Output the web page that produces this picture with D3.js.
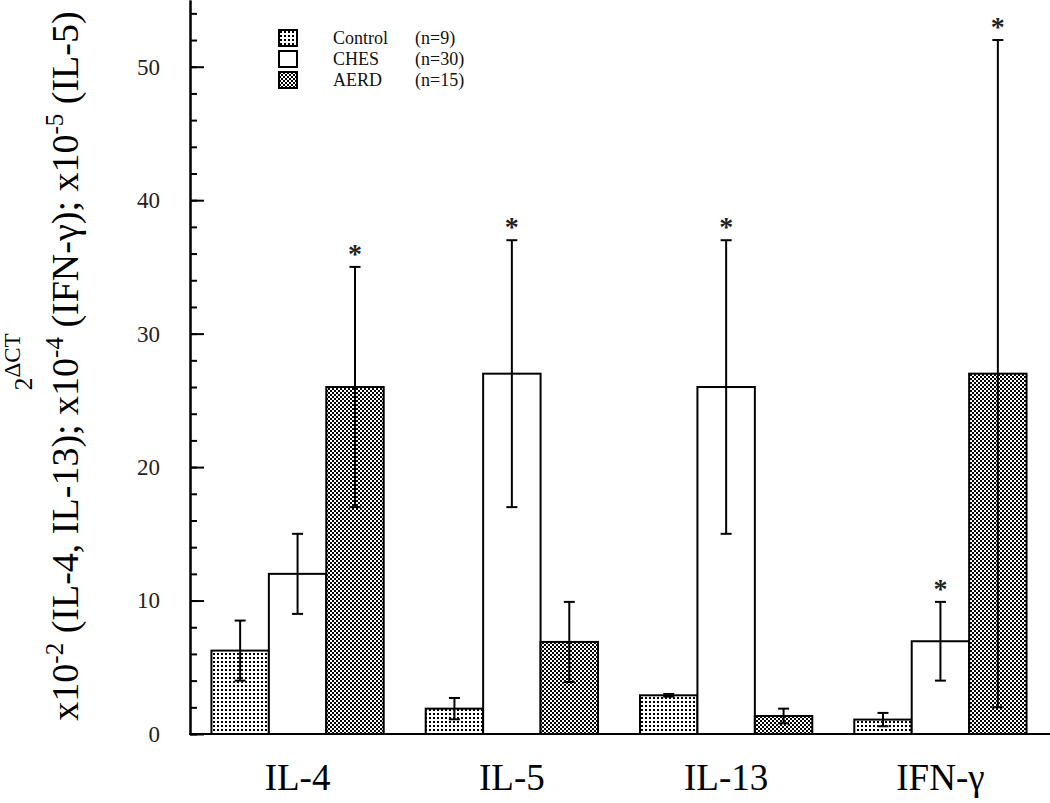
<!DOCTYPE html>
<html>
<head>
<meta charset="utf-8">
<script src="https://cdn.jsdelivr.net/npm/d3@7"></script>
<style>
  body { margin: 0; background: #fff; }
  svg { display: block; font-family: 'Liberation Serif', 'Times New Roman', serif; }
</style>
</head>
<body>
<div id="chart"></div>
<script>
// data
const categories = ['IL-4', 'IL-5', 'IL-13', 'IFN-γ'];
const groups = ['Control', 'CHES', 'AERD'];
const groupN = ['(n=9)', '(n=30)', '(n=15)'];

const controlMean = [6.25, 1.9, 2.9, 1.08];
const controlErr = [2.25, 0.8, 0.1, 0.5];
const chesMean = [12, 27, 26, 6.95];
const chesErr = [3, 10, 11, 2.95];
const aerdMean = [26, 6.9, 1.35, 27];
const aerdErr = [9, 3, 0.55, 25];
const chesSig = [false, true, true, true];
const aerdSig = [true, false, false, true];
const controlSig = [false, false, false, false];

const yTicks = [0, 10, 20, 30, 40, 50];

const width = 1050;
const height = 803;
const x0 = 190;
const yBase = 734;

const means = [controlMean, chesMean, aerdMean];
const errs = [controlErr, chesErr, aerdErr];
const sigs = [controlSig, chesSig, aerdSig];

const rows = [];
categories.forEach((c, i) => {
  groups.forEach((g, j) => {
    rows.push({ cat: c, group: g, mean: means[j][i], err: errs[j][i], sig: sigs[j][i] });
  });
});

const svg = d3.select('#chart')
  .append('svg')
  .attr('width', width)
  .attr('height', height);

// fill patterns
const defs = svg.append('defs');
const pCtrl = defs.append('pattern')
  .attr('id', 'pat-Control')
  .attr('patternUnits', 'userSpaceOnUse')
  .attr('width', 4).attr('height', 4);
pCtrl.append('rect').attr('width', 4).attr('height', 4).attr('fill', '#fff');
pCtrl.append('rect').attr('x', 1).attr('y', 1).attr('width', 2).attr('height', 2).attr('fill', '#000');

const pAerd = defs.append('pattern')
  .attr('id', 'pat-AERD')
  .attr('patternUnits', 'userSpaceOnUse')
  .attr('width', 4).attr('height', 4);
pAerd.append('rect').attr('width', 4).attr('height', 4).attr('fill', '#fff');
pAerd.append('rect').attr('x', 0).attr('y', 0).attr('width', 2).attr('height', 2).attr('fill', '#000');
pAerd.append('rect').attr('x', 2).attr('y', 2).attr('width', 2).attr('height', 2).attr('fill', '#000');

const fillFor = g => g === 'CHES' ? '#fff' : `url(#pat-${g})`;

const yScale = d3.scaleLinear().domain([0, 55]).range([yBase, 0]);
const xScale = d3.scaleBand()
  .domain(categories)
  .range([x0, 1048])
  .paddingInner(0.196)
  .paddingOuter(0.1);
const xSub = d3.scaleBand().domain(groups).range([0, xScale.bandwidth()]);

// bars
const bars = svg.append('g').attr('class', 'bars');
bars.selectAll('rect')
  .data(rows)
  .join('rect')
  .attr('x', d => xScale(d.cat) + xSub(d.group))
  .attr('y', d => yScale(d.mean))
  .attr('width', xSub.bandwidth())
  .attr('height', d => yScale(0) - yScale(d.mean))
  .attr('fill', d => fillFor(d.group))
  .attr('stroke', '#000')
  .attr('stroke-width', 2);

// error bars
const capW = 11;
const eb = svg.append('g').attr('class', 'error-bars')
  .selectAll('g')
  .data(rows)
  .join('g')
  .attr('transform', d => `translate(${xScale(d.cat) + xSub(d.group) + xSub.bandwidth() / 2},0)`);
eb.append('line')
  .attr('y1', d => yScale(d.mean - d.err))
  .attr('y2', d => yScale(d.mean + d.err))
  .attr('stroke', '#000').attr('stroke-width', 2);
eb.append('line')
  .attr('x1', -capW / 2).attr('x2', capW / 2)
  .attr('y1', d => yScale(d.mean + d.err)).attr('y2', d => yScale(d.mean + d.err))
  .attr('stroke', '#000').attr('stroke-width', 2);
eb.append('line')
  .attr('x1', -capW / 2).attr('x2', capW / 2)
  .attr('y1', d => yScale(d.mean - d.err)).attr('y2', d => yScale(d.mean - d.err))
  .attr('stroke', '#000').attr('stroke-width', 2);
eb.filter(d => d.sig)
  .append('text')
  .attr('y', d => yScale(d.mean + d.err) - 4)
  .attr('text-anchor', 'middle')
  .attr('font-size', 28)
  .attr('font-weight', 700)
  .attr('fill', '#222')
  .text('*');

// y axis: minor + major ticks pointing inward
const yMinor = d3.axisLeft(yScale)
  .tickValues(d3.range(0, 55, 2))
  .tickSizeInner(-7)
  .tickSizeOuter(0)
  .tickFormat('');
const yMajor = d3.axisLeft(yScale)
  .tickValues(yTicks)
  .tickSizeInner(-14)
  .tickSizeOuter(0)
  .tickPadding(30);
svg.append('g')
  .attr('class', 'y-minor')
  .attr('transform', `translate(${x0},0)`)
  .call(yMinor);
svg.append('g')
  .attr('class', 'y-major')
  .attr('transform', `translate(${x0},0)`)
  .call(yMajor);
svg.selectAll('.y-minor line, .y-major line, .y-major path, .y-minor path')
  .attr('stroke', '#000')
  .attr('stroke-width', 2);
svg.selectAll('.y-major text')
  .attr('font-size', 23)
  .attr('font-family', "'Liberation Serif', serif")
  .attr('fill', '#222');

// x axis line and labels
svg.append('line')
  .attr('x1', x0 - 1).attr('x2', width)
  .attr('y1', yBase).attr('y2', yBase)
  .attr('stroke', '#000').attr('stroke-width', 2);
svg.append('g')
  .selectAll('text')
  .data(categories)
  .join('text')
  .attr('x', d => xScale(d) + xScale.bandwidth() / 2)
  .attr('y', 790)
  .attr('text-anchor', 'middle')
  .attr('font-size', 37)
  .attr('fill', '#000')
  .text(d => d);

// y axis title (two rotated lines)
const t1 = svg.append('text')
  .attr('transform', 'translate(32,362) rotate(-90)')
  .attr('text-anchor', 'middle')
  .attr('font-size', 26)
  .attr('fill', '#000');
t1.append('tspan').text('2');
t1.append('tspan').attr('dy', -12).attr('font-size', 23).text('ΔCT');

const t2 = svg.append('text')
  .attr('transform', 'translate(78,366) rotate(-90)')
  .attr('text-anchor', 'middle')
  .attr('font-size', 38)
  .attr('fill', '#000');
const parts = [
  ['x10', 0], ['-2', 1], [' (IL-4, IL-13); x10', 0], ['-4', 1],
  [' (IFN-γ); x10', 0], ['-5', 1], [' (IL-5)', 0]
];
let prevSup = 0;
parts.forEach(([s, sup]) => {
  t2.append('tspan')
    .attr('dy', (sup - prevSup) * -15)
    .attr('font-size', sup ? 25 : 38)
    .text(s);
  prevSup = sup;
});

// legend
const legend = svg.append('g').attr('class', 'legend')
  .selectAll('g')
  .data(groups)
  .join('g')
  .attr('transform', (d, i) => `translate(279,${30 + i * 21})`);
legend.append('rect')
  .attr('width', 18).attr('height', 16)
  .attr('fill', d => fillFor(d))
  .attr('stroke', '#000').attr('stroke-width', 2);
legend.append('text')
  .attr('x', 54).attr('y', 14)
  .attr('font-size', 18)
  .attr('fill', '#111')
  .text(d => d);
legend.append('text')
  .attr('x', 136).attr('y', 14)
  .attr('font-size', 18)
  .attr('fill', '#111')
  .text((d, i) => groupN[i]);
</script>
</body>
</html>
